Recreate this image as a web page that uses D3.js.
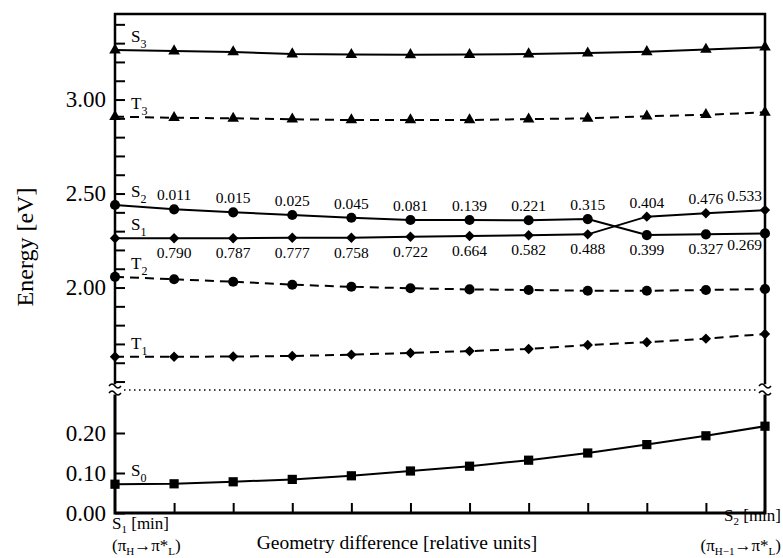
<!DOCTYPE html>
<html>
<head>
<meta charset="utf-8">
<script src="https://cdn.jsdelivr.net/npm/d3@7"></script>
<style>
body { margin: 0; background: #fff; }
svg text { font-family: "Liberation Serif", "Tinos", "Times New Roman", "DejaVu Serif", serif; }
</style>
</head>
<body>
<svg id="chart" width="783" height="558"></svg>
<script>
// geometry steps between S1[min] and S2[min]
var steps = [0, 1, 2, 3, 4, 5, 6, 7, 8, 9, 10, 11];

// energies [eV]
var S3 = [3.263, 3.258, 3.253, 3.242, 3.239, 3.238, 3.239, 3.242, 3.247, 3.254, 3.266, 3.279];
var T3 = [2.909, 2.903, 2.900, 2.895, 2.891, 2.891, 2.891, 2.896, 2.900, 2.911, 2.919, 2.932];
var S2 = [2.439, 2.416, 2.400, 2.386, 2.371, 2.359, 2.359, 2.358, 2.364, 2.279, 2.283, 2.288];  // circles
var S1 = [2.262, 2.262, 2.262, 2.265, 2.265, 2.270, 2.274, 2.278, 2.283, 2.377, 2.395, 2.412];  // diamonds
var T2 = [2.057, 2.044, 2.031, 2.015, 2.004, 1.996, 1.990, 1.987, 1.983, 1.983, 1.987, 1.992];
var T1 = [1.632, 1.632, 1.633, 1.636, 1.643, 1.652, 1.662, 1.673, 1.694, 1.709, 1.728, 1.753];
var S0 = [0.072, 0.073, 0.078, 0.084, 0.093, 0.105, 0.117, 0.132, 0.150, 0.171, 0.193, 0.217];

// oscillator strengths (steps 1..11)
var fUpper = ["0.011", "0.015", "0.025", "0.045", "0.081", "0.139", "0.221", "0.315", "0.404", "0.476", "0.533"];
var fLower = ["0.790", "0.787", "0.777", "0.758", "0.722", "0.664", "0.582", "0.488", "0.399", "0.327", "0.269"];

var upperLabels = [2.00, 2.50, 3.00];
var lowerLabels = [0.00, 0.10, 0.20];

var m = {left: 115, right: 765, top: 14, bottom: 513, brk: 390};

var svg = d3.select("#chart");

var x = d3.scaleLinear().domain([0, 11]).range([m.left, m.right]);
var yUp = d3.scaleLinear().domain([1.455, 3.455]).range([m.brk, m.top]);
var yLo = d3.scaleLinear().domain([0, 0.3075]).range([m.bottom, m.brk]);

function lineFor(y) {
  return d3.line().x(function(d, i) { return x(steps[i]); }).y(function(d) { return y(d); });
}

var series = [
  {name: "S", sub: "3", data: S3, y: yUp, dash: null, sym: "tri"},
  {name: "T", sub: "3", data: T3, y: yUp, dash: "9,6", sym: "tri"},
  {name: "S", sub: "2", data: S2, y: yUp, dash: null, sym: "circ"},
  {name: "S", sub: "1", data: S1, y: yUp, dash: null, sym: "dia"},
  {name: "T", sub: "2", data: T2, y: yUp, dash: "9,6", sym: "circ"},
  {name: "T", sub: "1", data: T1, y: yUp, dash: "9,6", sym: "dia"},
  {name: "S", sub: "0", data: S0, y: yLo, dash: null, sym: "sq"}
];

var symPath = {
  tri: d3.symbol(d3.symbolTriangle).size(58)(),
  circ: d3.symbol(d3.symbolCircle).size(80)(),
  dia: d3.symbol(d3.symbolSquare).size(54)(),
  sq: d3.symbol(d3.symbolSquare).size(85)()
};

// lines
series.forEach(function(s) {
  svg.append("path")
    .attr("d", lineFor(s.y)(s.data))
    .attr("fill", "none")
    .attr("stroke", "#000")
    .attr("stroke-width", 2)
    .attr("stroke-dasharray", s.dash);
});

// markers
series.forEach(function(s) {
  svg.append("g").selectAll("path")
    .data(s.data)
    .enter().append("path")
    .attr("d", symPath[s.sym])
    .attr("fill", "#000")
    .attr("transform", function(d, i) {
      return "translate(" + x(steps[i]) + "," + s.y(d) + ")" + (s.sym == "dia" ? " rotate(45)" : "");
    });
});

// state labels
series.forEach(function(s) {
  var t = svg.append("text")
    .attr("x", 131)
    .attr("y", s.y(s.data[0]) - 8)
    .attr("font-size", 17);
  t.append("tspan").text(s.name);
  t.append("tspan").attr("font-size", 12).attr("dy", 6).text(s.sub);
});

// oscillator strength labels
var fIdx = steps.slice(1);
svg.append("g").selectAll("text")
  .data(fUpper)
  .enter().append("text")
  .attr("font-size", 15.5)
  .attr("text-anchor", function(d, i) { return i == fUpper.length - 1 ? "end" : "middle"; })
  .attr("x", function(d, i) { return i == fUpper.length - 1 ? x(fIdx[i]) - 3 : x(fIdx[i]); })
  .attr("y", function(d, i) { return yUp(Math.max(S2[fIdx[i]], S1[fIdx[i]])) - 9; })
  .text(function(d) { return d; });

svg.append("g").selectAll("text")
  .data(fLower)
  .enter().append("text")
  .attr("font-size", 15.5)
  .attr("text-anchor", function(d, i) { return i == fLower.length - 1 ? "end" : "middle"; })
  .attr("x", function(d, i) { return i == fLower.length - 1 ? x(fIdx[i]) - 3 : x(fIdx[i]); })
  .attr("y", function(d, i) {
    var yy = yUp(Math.min(S2[fIdx[i]], S1[fIdx[i]])) + 20;
    return i == fLower.length - 1 ? yy - 3 : yy;
  })
  .text(function(d) { return d; });

// axes: ticks inward
var upTicks = d3.range(15, 35).map(function(d) { return d / 10; });
var axUp = svg.append("g")
  .attr("transform", "translate(" + m.left + ",0)")
  .call(d3.axisLeft(yUp).tickValues(upTicks).tickSize(-10).tickPadding(9)
    .tickFormat(function(d) {
      return upperLabels.some(function(v) { return Math.abs(v - d) < 1e-6; }) ? d3.format(".2f")(d) : "";
    }));

var axLo = svg.append("g")
  .attr("transform", "translate(" + m.left + ",0)")
  .call(d3.axisLeft(yLo).tickValues(lowerLabels).tickSize(-10).tickPadding(9).tickFormat(d3.format(".2f")));

var axX = svg.append("g")
  .attr("transform", "translate(0," + m.bottom + ")")
  .call(d3.axisBottom(x).tickValues(steps.slice(1, 11)).tickSize(-10).tickFormat(""));

[axUp, axLo, axX].forEach(function(a) {
  a.attr("font-family", null);
  a.select(".domain").remove();
  a.selectAll(".tick line").attr("stroke", "#000").attr("stroke-width", 2);
  a.selectAll(".tick text").attr("font-size", 23).attr("fill", "#000");
});

// frame with break
var frame = svg.append("g").attr("stroke", "#000").attr("fill", "none").attr("stroke-linecap", "square");
frame.append("path").attr("stroke-width", 2.5)
  .attr("d", "M" + m.left + "," + (m.brk - 7) + "V" + m.top + "H" + m.right + "V" + (m.brk - 7));
frame.append("path").attr("stroke-width", 3)
  .attr("d", "M" + m.left + "," + (m.brk + 6) + "V" + m.bottom + "H" + m.right + "V" + (m.brk + 6));

[m.left, m.right].forEach(function(xx) {
  [-4, 3].forEach(function(off) {
    frame.append("path").attr("stroke-width", 1.5).attr("stroke-linecap", "butt")
      .attr("d", "M" + (xx - 6) + "," + (m.brk + off) + "q3,-4 6,0t6,0");
  });
});

svg.append("line")
  .attr("x1", m.left + 9).attr("x2", m.right - 9)
  .attr("y1", m.brk).attr("y2", m.brk)
  .attr("stroke", "#000").attr("stroke-width", 1.5)
  .attr("stroke-dasharray", "1.5,3.5");

// axis titles
svg.append("text")
  .attr("transform", "translate(33,247) rotate(-90)")
  .attr("text-anchor", "middle")
  .attr("font-size", 24)
  .text("Energy [eV]");

svg.append("text")
  .attr("x", 397).attr("y", 549)
  .attr("text-anchor", "middle")
  .attr("font-size", 19.5)
  .text("Geometry difference [relative units]");

// end-point labels
function labelParts(parts, attrs) {
  var t = svg.append("text");
  Object.keys(attrs).forEach(function(k) { t.attr(k, attrs[k]); });
  parts.forEach(function(p) {
    var sp = t.append("tspan").text(p[0]);
    if (p[1]) sp.attr("font-size", 11).attr("dy", 4);
    if (p[2]) sp.attr("dy", -4);
  });
  return t;
}

labelParts([["S"], ["1", true], [" [min]", false, true]], {x: 112, y: 529, "font-size": 17});
labelParts([["(\u03c0"], ["H", true], ["\u2192\u03c0*", false, true], ["L", true], [")", false, true]], {x: 112, y: 551, "font-size": 17});
labelParts([["S"], ["2", true], [" [min]", false, true]], {x: 781, y: 521, "font-size": 17, "text-anchor": "end"});
labelParts([["(\u03c0"], ["H\u22121", true], ["\u2192\u03c0*", false, true], ["L", true], [")", false, true]], {x: 781, y: 551, "font-size": 17, "text-anchor": "end"});
</script>
</body>
</html>
